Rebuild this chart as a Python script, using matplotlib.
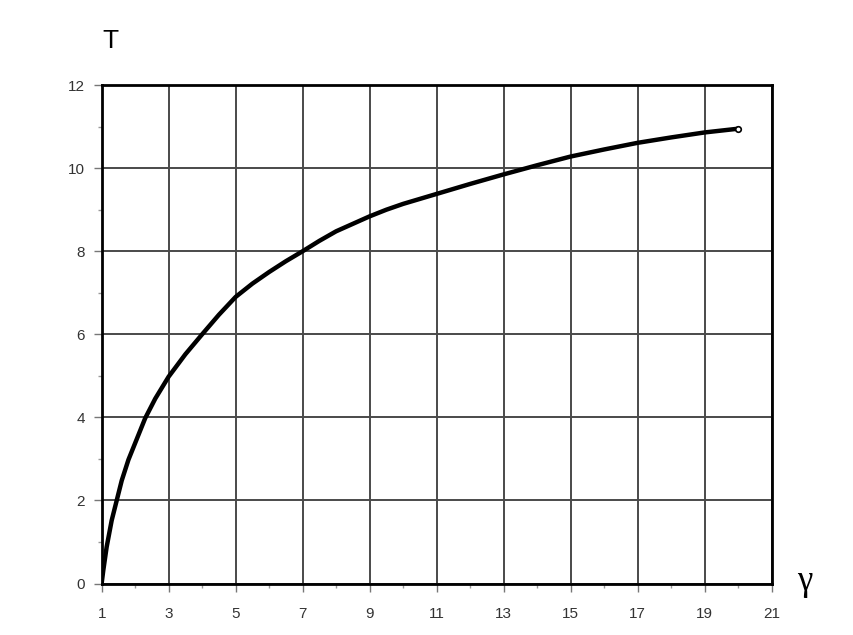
import matplotlib
matplotlib.use("Agg")
import matplotlib.pyplot as plt
from matplotlib.ticker import MultipleLocator

# values
gamma = [1.0, 1.05, 1.15, 1.3, 1.45, 1.6, 1.8, 2.0, 2.3, 2.6, 3.0, 3.5, 4.0,
         4.5, 5.0, 5.5, 6.0, 6.5, 7.0, 7.5, 8.0, 8.5, 9.0, 9.5, 10.0, 11.0,
         12.0, 13.0, 14.0, 15.0, 16.0, 17.0, 18.0, 19.0, 20.0]
T = [0.0, 0.32, 0.88, 1.52, 2.0, 2.48, 2.98, 3.38, 3.98, 4.45, 4.98, 5.52, 6.0,
     6.47, 6.9, 7.22, 7.5, 7.76, 8.0, 8.25, 8.48, 8.66, 8.84, 9.0, 9.14, 9.38,
     9.62, 9.85, 10.07, 10.28, 10.45, 10.61, 10.74, 10.86, 10.95]

xticks = list(range(1, 22, 2))
yticks = list(range(0, 13, 2))

fig = plt.figure(figsize=(8.54, 6.35), dpi=100)
ax = fig.add_axes([0.119, 0.081, 0.7845, 0.785])

ax.plot(gamma, T, color="black", lw=3.2, solid_capstyle="round",
        solid_joinstyle="round", zorder=3)
ax.plot(gamma[-1], T[-1], "o", ms=4, mfc="white", mec="black", mew=1.2, zorder=4)

ax.set_xlim(1, 21)
ax.set_ylim(0, 12)
ax.set_xticks(xticks)
ax.set_yticks(yticks)
ax.xaxis.set_minor_locator(MultipleLocator(1))
ax.yaxis.set_minor_locator(MultipleLocator(1))
ax.grid(True, which="major", color="#4a4a4a", lw=1.4)
ax.tick_params(which="major", length=6, width=1, color="#777777",
               labelsize=11, labelcolor="#333333")
ax.tick_params(axis="y", which="major", pad=6)
ax.tick_params(axis="x", which="major", pad=11)
ax.tick_params(which="minor", length=3, width=1, color="#999999")
for lbl in ax.get_xticklabels() + ax.get_yticklabels():
    lbl.set_family("Liberation Sans")
for s in ax.spines.values():
    s.set_linewidth(2.0)

fig.text(110 / 854, 1 - 41.5 / 635, "T", fontsize=19, family="Liberation Sans",
         ha="center", va="center")
fig.text(805 / 854, 1 - 581 / 635, "γ", fontsize=25, family="Liberation Serif",
         ha="center", va="center")

fig.savefig("out.png", dpi=100)
